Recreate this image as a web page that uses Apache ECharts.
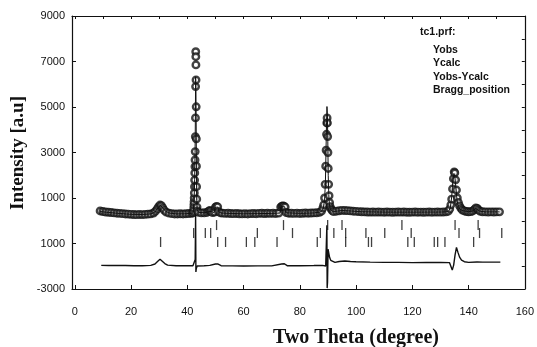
<!DOCTYPE html>
<html>
<head>
<meta charset="utf-8">
<script src="https://cdn.jsdelivr.net/npm/echarts@6/dist/echarts.min.js"></script>
<style>
  html, body { margin: 0; padding: 0; background: #fff; }
  #main { width: 537px; height: 347px; }
</style>
</head>
<body>
<div id="main"></div>
<script>
// x ticks / labels
const xTicks = [0, 20, 40, 60, 80, 100, 120, 140, 160];
// y tick labels as printed on the figure (bottom to top)
const yTickLabels = ["-3000", "1000", "1000", "3000", "5000", "7000", "9000"];

// observed intensity [2theta, I]
const yobs = [
  [9, 430], [10, 405], [11, 385], [12, 372], [13, 360], [14, 345], [15, 332], [16, 322], [17, 312], [18, 300],
  [19, 292], [20, 282], [21, 272], [22, 268], [23, 276], [24, 270], [25, 280], [26, 290], [27, 302], [28, 340],
  [28.7, 420], [29.3, 520], [29.8, 620], [30.3, 690], [30.8, 660], [31.3, 560], [31.8, 460], [32.5, 380],
  [33.5, 335], [34.5, 312], [35.5, 300], [36.5, 298], [37.5, 306], [38.5, 300], [39.5, 310], [40.5, 318],
  [41.5, 330], [42, 350], [42.2, 420], [42.3, 560], [42.35, 700], [42.4, 830], [42.45, 1000], [42.5, 1220],
  [42.55, 1500], [42.6, 1790], [42.65, 2100], [42.7, 2380], [42.75, 2670], [42.8, 3040], [42.85, 3700],
  [42.9, 4520], [42.95, 5900], [43.0, 7430], [43.03, 7210], [43.06, 6850], [43.1, 6190], [43.15, 5010],
  [43.2, 3600], [43.25, 2400], [43.3, 1500], [43.35, 950], [43.45, 600], [43.6, 430],
  [44, 370], [45, 345], [46, 350], [47, 365], [47.6, 420], [48, 455], [48.4, 420], [49, 355], [49.7, 380],
  [50, 600], [50.4, 630], [50.8, 610], [51.1, 400], [51.8, 345], [52.5, 335], [53.5, 322], [54.5, 330],
  [55.5, 318], [56.5, 312], [57.5, 320], [58.5, 308], [59.5, 302], [60.5, 310], [61.5, 300], [62.5, 312],
  [63.5, 318], [64.5, 310], [65.5, 322], [66.5, 330], [67.5, 318], [68.5, 328], [69.5, 322], [70.5, 330],
  [71.5, 320], [72.5, 335], [73.2, 600], [73.6, 640], [74, 650], [74.4, 640], [74.8, 600], [75.2, 360],
  [76, 332], [77, 328], [78, 322], [79, 332], [80, 320], [81, 330], [82, 338], [83, 332], [84, 340], [85, 345],
  [86, 352], [87, 370], [87.7, 420], [88.2, 560], [88.5, 700], [88.8, 1000], [89, 1600], [89.2, 2400],
  [89.35, 3100], [89.5, 3800], [89.6, 4300], [89.7, 4520], [89.8, 4300], [89.9, 3700], [90, 3000],
  [90.1, 2300], [90.25, 1600], [90.4, 1100], [90.6, 800], [90.8, 620], [91.1, 520], [91.5, 450],
  [92, 400], [93, 420], [94, 440], [95, 455], [96, 450], [97, 445], [98, 432], [99, 420], [100, 410],
  [101, 402], [102, 395], [103, 390], [104, 385], [105, 380], [106, 382], [107, 378], [108, 385], [109, 380],
  [110, 376], [111, 382], [112, 378], [113, 374], [114, 380], [115, 385], [116, 378], [117, 382], [118, 376],
  [119, 372], [120, 378], [121, 382], [122, 375], [123, 380], [124, 374], [125, 378], [126, 382], [127, 376],
  [128, 380], [129, 384], [130, 378], [131, 385], [132, 392], [132.8, 420], [133.3, 520], [133.7, 700],
  [134, 950], [134.3, 1400], [134.6, 1850], [134.9, 2150], [135.1, 2100], [135.4, 1800], [135.7, 1350],
  [136, 1000], [136.4, 800], [136.8, 650], [137.3, 540], [137.8, 470], [138.5, 430], [139.3, 405], [140, 395],
  [140.8, 400], [141.5, 430], [142.1, 500], [142.6, 560], [143.1, 540], [143.6, 470], [144.2, 410], [145, 395],
  [146, 388], [147, 382], [148, 390], [149, 384], [150, 388], [151, 392]
];

// calculated profile
const ycalc = [
  [9, 405], [12, 365], [16, 318], [20, 282], [24, 276], [27, 300], [28.5, 380], [29.5, 560], [30.4, 680],
  [31.3, 560], [32.3, 420], [33.5, 340], [36, 302], [39, 305], [41, 322], [42, 350], [42.2, 400], [42.4, 800],
  [42.6, 1800], [42.75, 3000], [42.85, 4300], [42.95, 6330], [43.05, 6000], [43.15, 4300], [43.25, 2000],
  [43.35, 900], [43.5, 480], [44, 370], [46, 350], [47.5, 400], [48, 440], [48.5, 410], [49.5, 360],
  [49.9, 590], [50.9, 600], [51.2, 390], [52, 340], [56, 318], [60, 305], [65, 315], [70, 322], [73, 340],
  [73.3, 610], [74.6, 620], [75, 350], [80, 325], [85, 342], [87.5, 390], [88.3, 520], [88.8, 900],
  [89.1, 1700], [89.3, 3000], [89.5, 4300], [89.65, 5020], [89.8, 4700], [89.95, 3500], [90.1, 2000],
  [90.3, 1150], [90.5, 740], [90.8, 540], [91.2, 450], [92, 405], [95, 450], [98, 430], [102, 395],
  [110, 380], [120, 378], [130, 382], [132, 392], [133, 430], [133.5, 560], [134, 1050], [134.4, 1750],
  [134.8, 2080], [135.1, 1950], [135.5, 1450], [135.9, 900], [136.4, 620], [137, 500], [138, 440],
  [140, 400], [141.5, 430], [142.5, 540], [143.2, 510], [144, 420], [146, 390], [151, 390]
];

// difference curve (shifted)
const ydiff = [
  [9.4, -1960], [12, -1965], [15, -1960], [18, -1970], [21, -1980], [24, -1975], [27, -1960], [28.5, -1900],
  [29.5, -1780], [30.3, -1690], [31, -1740], [32, -1880], [33, -1950], [36, -1975], [39, -1980], [42, -1975],
  [42.5, -1900], [42.8, -1700], [42.95, 250], [43.05, -2250], [43.2, -2100], [43.5, -1990], [46, -1980],
  [48, -1960], [50, -1900], [50.8, -1900], [52, -1975], [56, -1985], [60, -1990], [65, -1985], [70, -1985],
  [73.5, -1900], [74.5, -1890], [75.5, -1975], [80, -1980], [85, -1970], [88, -1960], [89.2, -1990],
  [89.55, -1950], [89.62, -200], [89.72, -2960], [89.85, -2700], [90.05, -1250], [90.3, -1420], [90.6, -1620],
  [91, -1740], [91.6, -1810], [92.5, -1830], [94, -1790], [96, -1770], [98, -1790], [100, -1800],
  [105, -1820], [110, -1830], [115, -1830], [120, -1840], [125, -1835], [130, -1830], [133.2, -1840],
  [133.8, -1920], [134.2, -2170], [134.7, -1950], [135.2, -1500], [135.7, -1170], [136.2, -1380],
  [136.8, -1600], [137.5, -1730], [138.5, -1800], [140, -1830], [143, -1810], [145, -1820], [151.3, -1820]
];

// Bragg reflections, three rows
const braggHigh = [50.4, 74.2, 89.9, 95.0, 116.3, 135.2, 143.4];
const braggMid = [42.25, 46.4, 48.3, 64.9, 77.4, 87.3, 92.1, 96.3, 103.5, 110.2, 119.6, 136.6, 143.9, 151.8];
const braggLow = [30.5, 50.8, 53.6, 61.0, 64.0, 71.9, 86.2, 96.3, 104.4, 105.5, 118.4, 120.7, 127.8, 129.0, 131.6, 141.8];
const braggRowLevels = [-190, -540, -935];

const ink = "#111";
const numFont = "Liberation Sans";

const chart = echarts.init(document.getElementById("main"), null, { renderer: "canvas" });

function braggSeries(list, level) {
  return {
    name: "Bragg_position",
    type: "scatter",
    symbol: "rect",
    symbolSize: [1.3, 10],
    itemStyle: { color: ink },
    data: list.map(t => [t, level]),
    silent: true,
    z: 3
  };
}

const option = {
  backgroundColor: "#fff",
  animation: false,
  title: {
    text: "tc1.prf:",
    left: 420,
    top: 27,
    padding: 0,
    textStyle: { fontFamily: numFont, fontSize: 10.5, fontWeight: "bold", color: ink }
  },
  legend: {
    data: ["Yobs", "Ycalc", "Yobs-Ycalc", "Bragg_position"],
    orient: "vertical",
    left: 427,
    top: 43,
    padding: 0,
    itemGap: 0,
    itemWidth: 0,
    itemHeight: 0,
    selectedMode: false,
    textStyle: { fontFamily: numFont, fontSize: 10.5, fontWeight: "bold", color: ink, lineHeight: 13.5 }
  },
  graphic: [
    {
      type: "text",
      x: 356,
      y: 338,
      style: {
        text: "Two Theta (degree)",
        font: "bold 20px 'Liberation Serif'",
        fill: ink,
        textAlign: "center",
        textVerticalAlign: "middle"
      }
    },
    {
      type: "text",
      x: 18,
      y: 153,
      rotation: Math.PI / 2,
      style: {
        text: "Intensity [a.u]",
        font: "bold 19px 'Liberation Serif'",
        fill: ink,
        textAlign: "center",
        textVerticalAlign: "middle"
      }
    }
  ],
  grid: { left: 72, right: 7, top: 16, bottom: 58 },
  xAxis: [
    {
      type: "value",
      min: -1,
      max: 160,
      axisLine: { onZero: false, lineStyle: { color: ink, width: 1.2 } },
      axisTick: { inside: true, length: 4, customValues: xTicks, lineStyle: { color: ink } },
      axisLabel: {
        customValues: xTicks,
        margin: 17,
        fontFamily: numFont,
        fontSize: 11,
        color: ink
      },
      splitLine: { show: false }
    },
    {
      type: "value",
      position: "top",
      min: -1,
      max: 160,
      axisLine: { onZero: false, lineStyle: { color: ink, width: 1.2 } },
      axisTick: { inside: true, length: 3, customValues: [0, 10, 20, 30, 40, 50, 60, 70, 80, 90, 100, 110, 120, 130, 140, 150], lineStyle: { color: ink } },
      axisLabel: { show: false },
      splitLine: { show: false }
    }
  ],
  yAxis: [
    {
      type: "value",
      min: -3000,
      max: 9000,
      interval: 2000,
      axisLine: { show: true, onZero: false, lineStyle: { color: ink, width: 1.2 } },
      axisTick: { show: true, inside: true, length: 4, lineStyle: { color: ink } },
      axisLabel: {
        margin: 7,
        fontFamily: numFont,
        fontSize: 11,
        color: ink,
        formatter: v => yTickLabels[Math.round((v + 3000) / 2000)]
      },
      splitLine: { show: false }
    },
    {
      type: "value",
      position: "right",
      min: -3000,
      max: 9000,
      interval: 1000,
      axisLine: { show: true, onZero: false, lineStyle: { color: ink, width: 1.2 } },
      axisTick: { show: true, inside: true, length: 3, lineStyle: { color: ink } },
      axisLabel: { show: false },
      splitLine: { show: false }
    }
  ],
  series: [
    {
      name: "Yobs",
      type: "scatter",
      symbol: "circle",
      symbolSize: 6.5,
      itemStyle: { color: "#fff", borderColor: ink, borderWidth: 2.4 },
      data: yobs,
      silent: true,
      z: 2
    },
    {
      name: "Ycalc",
      type: "line",
      data: ycalc,
      showSymbol: false,
      lineStyle: { color: ink, width: 1 },
      itemStyle: { color: ink },
      silent: true,
      z: 4
    },
    {
      name: "Yobs-Ycalc",
      type: "line",
      data: ydiff,
      showSymbol: false,
      lineStyle: { color: ink, width: 1.4 },
      itemStyle: { color: ink },
      silent: true,
      z: 4
    },
    braggSeries(braggHigh, braggRowLevels[0]),
    braggSeries(braggMid, braggRowLevels[1]),
    braggSeries(braggLow, braggRowLevels[2])
  ]
};

chart.setOption(option);
</script>
</body>
</html>
